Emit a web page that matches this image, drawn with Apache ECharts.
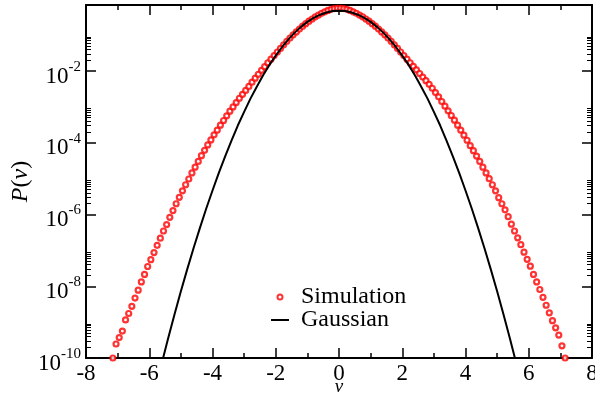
<!DOCTYPE html>
<html>
<head>
<meta charset="utf-8">
<script src="https://cdn.jsdelivr.net/npm/echarts@6/dist/echarts.min.js"></script>
<style>
  html, body { margin: 0; padding: 0; background: #fff; }
  #chart { width: 595px; height: 401px; }
</style>
</head>
<body>
<div id="chart"></div>
<script>
// simulation points: bin centre v and log10 P(v)
var simV = [
  -7.15, -7.05, -6.95, -6.85, -6.75, -6.65, -6.55, -6.45, -6.35, -6.25,
  -6.15, -6.05, -5.95, -5.85, -5.75, -5.65, -5.55, -5.45, -5.35, -5.25,
  -5.15, -5.05, -4.95, -4.85, -4.75, -4.65, -4.55, -4.45, -4.35, -4.25,
  -4.15, -4.05, -3.95, -3.85, -3.75, -3.65, -3.55, -3.45, -3.35, -3.25,
  -3.15, -3.05, -2.95, -2.85, -2.75, -2.65, -2.55, -2.45, -2.35, -2.25,
  -2.15, -2.05, -1.95, -1.85, -1.75, -1.65, -1.55, -1.45, -1.35, -1.25,
  -1.15, -1.05, -0.95, -0.85, -0.75, -0.65, -0.55, -0.45, -0.35, -0.25,
  -0.15, -0.05,
  0.05, 0.15, 0.25, 0.35, 0.45, 0.55, 0.65, 0.75, 0.85, 0.95,
  1.05, 1.15, 1.25, 1.35, 1.45, 1.55, 1.65, 1.75, 1.85, 1.95,
  2.05, 2.15, 2.25, 2.35, 2.45, 2.55, 2.65, 2.75, 2.85, 2.95,
  3.05, 3.15, 3.25, 3.35, 3.45, 3.55, 3.65, 3.75, 3.85, 3.95,
  4.05, 4.15, 4.25, 4.35, 4.45, 4.55, 4.65, 4.75, 4.85, 4.95,
  5.05, 5.15, 5.25, 5.35, 5.45, 5.55, 5.65, 5.75, 5.85, 5.95,
  6.05, 6.15, 6.25, 6.35, 6.45, 6.55, 6.65, 6.75, 6.85, 6.95,
  7.05, 7.15
];
var simLogP = [
  -10.00, -9.61, -9.43, -9.25, -8.94, -8.76, -8.56, -8.33, -8.11, -7.88,
  -7.67, -7.45, -7.26, -7.06, -6.86, -6.66, -6.46, -6.28, -6.08, -5.89,
  -5.70, -5.52, -5.34, -5.17, -5.01, -4.84, -4.68, -4.52, -4.36, -4.21,
  -4.06, -3.92, -3.78, -3.65, -3.51, -3.38, -3.25, -3.12, -3.00, -2.88,
  -2.76, -2.65, -2.54, -2.43, -2.31, -2.20, -2.09, -1.98, -1.88, -1.77,
  -1.67, -1.57, -1.47, -1.37, -1.27, -1.17, -1.08, -0.99, -0.91, -0.83,
  -0.75, -0.68, -0.61, -0.55, -0.49, -0.44, -0.39, -0.35, -0.31, -0.28,
  -0.26, -0.25,
  -0.25, -0.26, -0.28, -0.31, -0.35, -0.39, -0.44, -0.49, -0.55, -0.61,
  -0.68, -0.75, -0.83, -0.91, -0.99, -1.08, -1.17, -1.27, -1.37, -1.47,
  -1.57, -1.67, -1.77, -1.87, -1.97, -2.07, -2.17, -2.27, -2.37, -2.48,
  -2.60, -2.72, -2.85, -2.98, -3.11, -3.24, -3.37, -3.51, -3.65, -3.79,
  -3.93, -4.08, -4.22, -4.37, -4.52, -4.68, -4.84, -5.00, -5.17, -5.34,
  -5.53, -5.70, -5.87, -6.06, -6.27, -6.46, -6.65, -6.84, -7.05, -7.25,
  -7.44, -7.67, -7.88, -8.09, -8.31, -8.53, -8.74, -8.96, -9.16, -9.36,
  -9.66, -10.00
];

// gaussian curve, log10 P(v)
var gaussV = [
  -5.6, -5.4, -5.2, -5.0, -4.8, -4.6, -4.4, -4.2, -4.0, -3.8,
  -3.6, -3.4, -3.2, -3.0, -2.8, -2.6, -2.4, -2.2, -2.0, -1.8,
  -1.6, -1.4, -1.2, -1.0, -0.8, -0.6, -0.4, -0.2, 0.0, 0.2,
  0.4, 0.6, 0.8, 1.0, 1.2, 1.4, 1.6, 1.8, 2.0, 2.2,
  2.4, 2.6, 2.8, 3.0, 3.2, 3.4, 3.6, 3.8, 4.0, 4.2,
  4.4, 4.6, 4.8, 5.0, 5.2, 5.4, 5.6
];
var gaussLogP = [
  -10.13, -9.44, -8.78, -8.14, -7.53, -6.94, -6.38, -5.84, -5.33, -4.84,
  -4.38, -3.94, -3.52, -3.14, -2.77, -2.44, -2.12, -1.83, -1.57, -1.33,
  -1.12, -0.93, -0.77, -0.63, -0.52, -0.43, -0.37, -0.33, -0.32, -0.33,
  -0.37, -0.43, -0.52, -0.63, -0.77, -0.93, -1.12, -1.33, -1.57, -1.83,
  -2.12, -2.44, -2.77, -3.14, -3.52, -3.94, -4.38, -4.84, -5.33, -5.84,
  -6.38, -6.94, -7.53, -8.14, -8.78, -9.44, -10.13
];

// tick labels (exponents of 10) and the decades that carry minor ticks
var yExponents = [-10, -8, -6, -4, -2];
var minorMantissa = [2, 3, 4, 5, 6, 7, 8, 9];

var FONT = "Liberation Serif";

var yMinor = [];
yExponents.forEach(function (e) {
  minorMantissa.forEach(function (m) {
    yMinor.push(e + Math.log10(m));
  });
});

var simData = simV.map(function (v, i) { return [v, simLogP[i]]; });
var gaussData = gaussV.map(function (v, i) { return [v, gaussLogP[i]]; });

var frame = { show: true, onZero: false, lineStyle: { color: "#000", width: 2 } };
var tickStyle = { color: "#000", width: 1.5 };
var minorTickStyle = { color: "#000", width: 1 };
var yMin = -10, yMax = -0.16;

function yAxisOf(pos, minor) {
  return {
    type: "value",
    position: pos,
    offset: 0,
    min: yMin,
    max: yMax,
    axisLine: minor ? { show: false, onZero: false } : frame,
    axisTick: {
      inside: true,
      length: minor ? 5 : 10,
      lineStyle: minor ? minorTickStyle : tickStyle,
      customValues: minor ? yMinor : yExponents,
    },
    axisLabel: { show: false },
    splitLine: { show: false },
  };
}

var yLeft = yAxisOf("left", false);
yLeft.axisLabel = {
  show: true,
  customValues: yExponents,
  margin: 5,
  formatter: function (v) {
    return "{b|10}{s|" + v + "}";
  },
  rich: {
    b: { fontSize: 23, lineHeight: 22, fontFamily: FONT, color: "#000", padding: [11, 0, 0, 0] },
    s: { fontSize: 15, lineHeight: 15, fontFamily: FONT, color: "#000", padding: [5, 0, 13, 0] },
  },
};
yLeft.name = "{i|P}({i|v})";
yLeft.nameLocation = "middle";
yLeft.nameGap = 53;
yLeft.nameMoveOverlap = false;
yLeft.nameTextStyle = {
  fontSize: 24,
  fontFamily: FONT,
  color: "#000",
  rich: { i: { fontSize: 24, fontFamily: FONT, fontStyle: "italic", color: "#000" } },
};

function xAxisOf(pos) {
  return {
    type: "value",
    position: pos,
    min: -8,
    max: 8,
    interval: 2,
    axisLine: frame,
    axisTick: { inside: true, length: 10, lineStyle: tickStyle },
    minorTick: { show: true, splitNumber: 2, length: 5, lineStyle: tickStyle },
    axisLabel: { show: false },
    splitLine: { show: false },
    minorSplitLine: { show: false },
  };
}

var xBottom = xAxisOf("bottom");
xBottom.axisLabel = { show: true, fontSize: 23, fontFamily: FONT, color: "#000", margin: 4 };
xBottom.name = "v";
xBottom.nameLocation = "middle";
xBottom.nameGap = 19;
xBottom.nameMoveOverlap = false;
xBottom.nameTextStyle = { fontSize: 19, fontFamily: FONT, fontStyle: "italic", color: "#000" };

var myChart = echarts.init(document.getElementById("chart"));
var option = {
  animation: false,
  backgroundColor: "#fff",
  grid: { left: 86, right: 3, top: 5, bottom: 43, outerBoundsMode: "none", containLabel: false },
  legend: {
    orient: "vertical",
    left: 265,
    top: 280,
    itemWidth: 18,
    itemHeight: 5,
    itemGap: -1,
    textStyle: { fontSize: 24, fontFamily: FONT, color: "#000", padding: [0, 0, 0, 7] },
    data: [
      "Simulation",
      { name: "Gaussian", itemStyle: { opacity: 0 } },
    ],
  },
  xAxis: [xBottom, xAxisOf("top")],
  yAxis: [yLeft, yAxisOf("left", true), yAxisOf("right", false), yAxisOf("right", true)],
  series: [
    {
      name: "Simulation",
      type: "scatter",
      data: simData,
      symbol: "circle",
      symbolSize: 5,
      itemStyle: { color: "#fff", borderColor: "#ff0000", borderWidth: 2.2 },
    },
    {
      name: "Gaussian",
      type: "line",
      data: gaussData,
      symbol: "none",
      lineStyle: { color: "#000", width: 2 },
      itemStyle: { color: "#000" },
    },
  ],
};
myChart.setOption(option);
</script>
</body>
</html>
